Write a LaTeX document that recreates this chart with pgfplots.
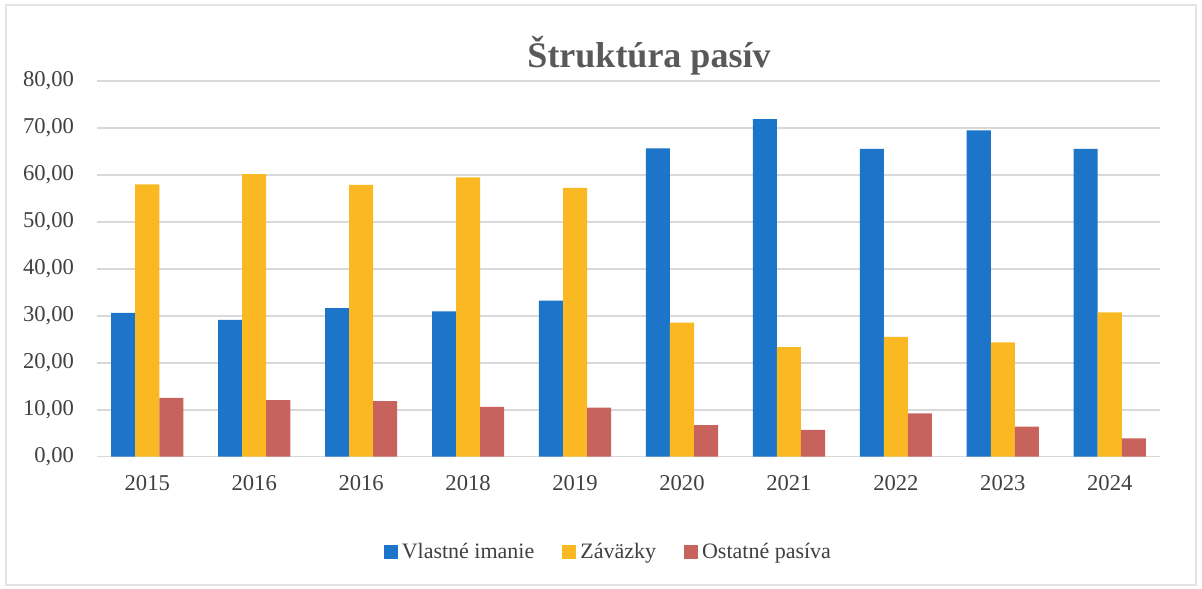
\documentclass[border=0pt]{standalone}
\usepackage{pgfplots}
\usepackage{fontspec}
\setmainfont{Liberation Serif}
\pgfplotsset{compat=1.18}

\definecolor{cblue}{RGB}{28,117,200}
\definecolor{corange}{RGB}{250,184,35}
\definecolor{cred}{RGB}{200,98,92}
\definecolor{cgrid}{RGB}{217,217,217}
\definecolor{ctext}{RGB}{64,64,64}
\definecolor{ctitle}{RGB}{89,89,89}

\begin{document}
\begin{tikzpicture}
\useasboundingbox (0,0) rectangle (601pt,294pt);
\draw[cgrid!70, line width=0.6pt] (3pt,1.5pt) rectangle (598pt,291.5pt);
\node[font=\fontsize{18}{20}\selectfont\bfseries, text=ctitle] at (324.5pt,266pt) {Štruktúra pasív};
\begin{axis}[
    at={(48.5pt,65.7pt)}, anchor=south west,
    scale only axis,
    width=531.5pt, height=188pt,
    ybar, bar width=0.225,
    xmin=-0.47, xmax=9.47,
    ymin=0, ymax=80,
    ytick={0,10,...,80},
    xtick={0,...,9},
    xticklabels={2015,2016,2016,2018,2019,2020,2021,2022,2023,2024},
    axis line style={draw=none},
    major tick length=0pt,
    ymajorgrids, grid style={cgrid, line width=0.9pt},
    tick label style={font=\fontsize{11.3}{13}\selectfont, text=ctext},
    yticklabel style={xshift=-8pt},
    xticklabel style={yshift=-6pt},
    /pgf/number format/.cd, fixed, fixed zerofill, precision=2, use comma, 1000 sep={}, assume math mode=true,
    /pgfplots/.cd,
    legend columns=3,
    legend style={at={(0.482,-0.254)}, anchor=center, draw=none,
        font=\fontsize{11}{13}\selectfont, text=ctext,
        /tikz/every even column/.append style={column sep=12pt}},
    legend image code/.code={\fill[#1] (0pt,-3.5pt) rectangle (7pt,3.5pt);},
]
\addplot[fill=cblue, draw=none, bar shift=-0.225] coordinates {
    (0,30.6)(1,29.1)(2,31.6)(3,30.9)(4,33.2)(5,65.6)(6,71.8)(7,65.5)(8,69.4)(9,65.5)
};
\addplot[fill=corange, draw=none, bar shift=0] coordinates {
    (0,57.9)(1,60.1)(2,57.8)(3,59.4)(4,57.2)(5,28.5)(6,23.3)(7,25.5)(8,24.3)(9,30.7)
};
\addplot[fill=cred, draw=none, bar shift=0.225] coordinates {
    (0,12.5)(1,12.0)(2,11.8)(3,10.6)(4,10.4)(5,6.7)(6,5.7)(7,9.2)(8,6.4)(9,3.9)
};
\legend{Vlastné imanie, Záväzky, Ostatné pasíva}
\end{axis}
\end{tikzpicture}
\end{document}
